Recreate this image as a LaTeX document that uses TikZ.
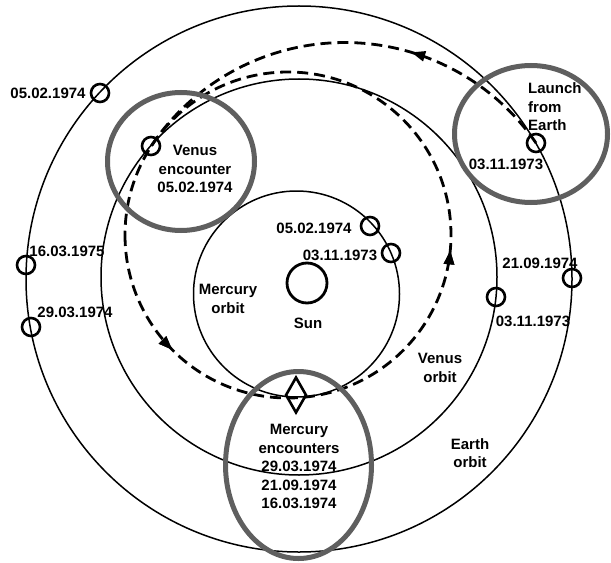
\documentclass[tikz,border=0pt]{standalone}
\usepackage{fontspec}
\setmainfont{Liberation Sans}
\usetikzlibrary{arrows.meta,decorations.markings,shapes.geometric}
\definecolor{ringgray}{RGB}{95,95,95}
\begin{document}
\begin{tikzpicture}[x=1bp,y=-1bp,
  orbit/.style={line width=1.5bp},
  planet/.style={circle,draw,line width=2.6bp,minimum size=18bp,inner sep=0pt},
  ring/.style={draw=ringgray,line width=5bp},
  transfer/.style={line width=2.8bp,dash pattern=on 11bp off 6bp},
  lbl/.style={font=\bfseries\fontsize{15bp}{18.5bp}\selectfont,inner sep=0pt,align=center},
  arrowmark/.style={postaction=decorate,decoration={markings,
     mark=at position #1 with {\arrow{Triangle[length=14bp,width=10bp]}}}}
]
\useasboundingbox (0,0) rectangle (611,563);

% orbits
\draw[orbit] (299,279) circle[radius=273];
\draw[orbit] (299,277) circle[radius=198];
\draw[orbit] (296.5,294) circle[radius=103];

% Sun
\node[circle,draw,line width=2.8bp,minimum size=40bp,inner sep=0pt] (sun) at (307,283) {};

% small planet markers
\node[planet] (E1) at (100,93) {};
\node[planet] (V1) at (151,146) {};
\node[planet] (L)  at (536,143) {};
\node[planet] (M1) at (370,226) {};
\node[planet] (M2) at (391,253) {};
\node[planet] (E2) at (26,265) {};
\node[planet] (E3) at (31,327) {};
\node[planet] (E4) at (572,278) {};
\node[planet] (V2) at (496,297) {};

% Mercury encounter marker
\node[diamond,draw,line width=2.6bp,minimum width=21bp,minimum height=36bp,inner sep=0pt] (perih) at (296,395) {};

% transfer orbits
\draw[transfer,arrowmark=0.347] (L.center) arc[start angle=-34.6,end angle=-146.3,radius=232.5];
\draw[transfer,arrowmark=0.1244,arrowmark=0.485] (125,235) arc[start angle=180,end angle=-180,radius=163];

% gray highlight rings
\draw[ring] (181,161.5) ellipse[x radius=73.5,y radius=69];
\draw[ring] (531,134) ellipse[x radius=76.5,y radius=68.5];
\draw[ring] (298.5,465) ellipse[x radius=73,y radius=93.5];

% labels
\node[lbl] (tE1) at (48,93) {05.02.1974};
\node[lbl] (tV1) at (195,169) {Venus\\encounter\\05.02.1974};
\node[lbl,anchor=west,align=left] (tL) at (528,107) {Launch\\from\\Earth};
\node[lbl] (tL2) at (506,164) {03.11.1973};
\node[lbl] (tM1) at (314,228) {05.02.1974};
\node[lbl] (tM2) at (340,255) {03.11.1973};
\node[lbl] (tMo) at (228,299) {Mercury\\orbit};
\node[lbl] (tSun) at (308,323) {Sun};
\node[lbl] (tE2) at (67,251) {16.03.1975};
\node[lbl] (tE3) at (75,312) {29.03.1974};
\node[lbl] (tE4) at (540,263) {21.09.1974};
\node[lbl] (tV2) at (533,321) {03.11.1973};
\node[lbl] (tVo) at (440,368) {Venus\\orbit};
\node[lbl] (tEo) at (470,453) {Earth\\orbit};
\node[lbl] (tMe) at (299,466.5) {Mercury\\encounters\\29.03.1974\\21.09.1974\\16.03.1974};
\end{tikzpicture}
\end{document}
